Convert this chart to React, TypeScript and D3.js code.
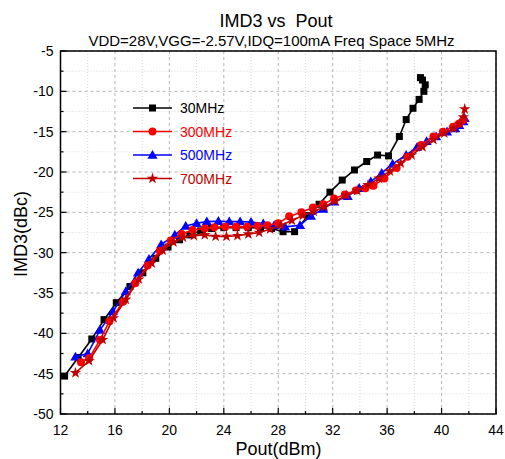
import React from "react";
import * as d3 from "d3";

const xTicks = [12, 16, 20, 24, 28, 32, 36, 40, 44];
const yTicks = [-5, -10, -15, -20, -25, -30, -35, -40, -45, -50];

const s30x = [12.3, 13.3, 14.3, 15.2, 16.1, 17.1, 18.05, 19.0, 19.9, 20.75, 21.5, 22.3, 23.1, 24.0, 24.9, 25.8, 26.7, 27.5, 28.35, 29.2, 30.2, 31.0, 31.8, 32.7, 33.6, 34.5, 35.3, 36.1, 36.9, 37.4, 37.9, 38.35, 38.7, 38.8, 38.6, 38.45];
const s30y = [-45.3, -43.0, -40.7, -38.3, -36.2, -34.2, -32.5, -30.7, -29.3, -28.4, -27.8, -27.3, -27.0, -26.9, -26.9, -26.9, -26.9, -27.0, -27.4, -27.4, -25.4, -24.0, -22.5, -21.0, -19.75, -18.7, -17.9, -18.0, -15.6, -13.5, -12.1, -11.0, -10.0, -9.2, -8.6, -8.3];

const s300x = [13.5, 14.1, 14.9, 15.6, 16.6, 17.5, 18.4, 19.3, 20.1, 20.9, 21.7, 22.6, 23.3, 24.1, 24.9, 25.7, 26.5, 27.2, 28.0, 28.8, 29.7, 30.55, 31.3, 32.1, 32.9, 33.7, 34.4, 35.0, 35.8, 36.7, 37.5, 38.5, 39.4, 40.1, 40.85, 41.3, 41.6];
const s300y = [-43.6, -43.1, -40.8, -38.5, -36.1, -33.8, -31.6, -29.8, -28.5, -27.7, -27.2, -27.0, -26.85, -26.8, -26.8, -26.8, -26.7, -26.6, -26.35, -25.5, -25.0, -24.4, -24.0, -23.3, -22.8, -22.3, -22.0, -21.7, -20.8, -19.5, -18.1, -16.65, -15.6, -15.0, -14.4, -14.0, -13.55];

const s500x = [13.1, 14.0, 14.9, 15.85, 16.8, 17.7, 18.5, 19.4, 20.4, 21.2, 22.0, 22.75, 23.6, 24.4, 25.2, 26.0, 26.9, 27.7, 28.5, 29.6, 30.4, 31.3, 32.1, 33.1, 33.95, 34.8, 35.6, 36.4, 37.4, 38.2, 38.9, 39.6, 40.4, 41.0, 41.3, 41.6, 41.7];
const s500y = [-42.9, -42.5, -39.6, -37.3, -34.8, -32.5, -30.8, -29.0, -27.8, -26.7, -26.35, -26.15, -26.1, -26.15, -26.15, -26.2, -26.4, -26.6, -26.8, -26.6, -25.45, -24.6, -23.7, -23.0, -22.0, -21.2, -20.15, -19.0, -17.9, -16.9, -16.2, -15.6, -15.0, -14.6, -14.2, -13.75, -13.35];

const s700x = [13.1, 14.1, 15.1, 15.9, 16.8, 17.75, 18.7, 19.5, 20.3, 21.0, 21.8, 22.6, 23.4, 24.2, 25.0, 25.8, 26.6, 27.4, 28.2, 29.0, 29.8, 30.6, 31.4, 32.2, 33.0, 33.8, 34.6, 35.4, 36.2, 37.0, 37.8, 38.6, 39.4, 40.2, 40.9, 41.3, 41.6, 41.7];
const s700y = [-44.9, -43.4, -40.8, -38.1, -35.8, -33.3, -31.3, -29.7, -28.7, -28.1, -27.9, -27.8, -28.0, -28.0, -27.9, -27.7, -27.5, -27.1, -26.6, -26.0, -25.4, -24.9, -24.3, -23.6, -22.9, -22.3, -21.6, -20.8, -19.9, -18.9, -17.9, -16.9, -16.0, -15.2, -14.6, -14.0, -13.2, -12.2];

const seriesNames = ["30MHz", "300MHz", "500MHz", "700MHz"];

const L = 60.5, R = 496, T = 51, B = 414;
const font = "'Liberation Sans', Arial, sans-serif";

function Marker({ kind, x, y, color }: { kind: string; x: number; y: number; color: string }) {
  if (kind === "square") return <rect x={x - 3.5} y={y - 3.5} width={7} height={7} fill={color} />;
  if (kind === "circle") return <circle cx={x} cy={y} r={4} fill={color} />;
  if (kind === "triangle") {
    const s = d3.symbol().type(d3.symbolTriangle).size(45)();
    return <path d={s || ""} transform={`translate(${x},${y + 0.8})`} fill={color} />;
  }
  const s = d3.symbol().type(d3.symbolStar).size(40)();
  return <path d={s || ""} transform={`translate(${x},${y})`} fill={color} />;
}

export default function App() {
  const x = d3.scaleLinear().domain([12, 44]).range([L, R]);
  const y = d3.scaleLinear().domain([-50, -5]).range([B, T]);

  const series = [
    { name: seriesNames[0], xs: s30x, ys: s30y, color: "#000000", kind: "square", text: "#000000" },
    { name: seriesNames[2], xs: s500x, ys: s500y, color: "#0000ff", kind: "triangle", text: "#0000ff" },
    { name: seriesNames[1], xs: s300x, ys: s300y, color: "#ff0000", kind: "circle", text: "#ff0000" },
    { name: seriesNames[3], xs: s700x, ys: s700y, color: "#c00000", kind: "star", text: "#c00000" },
  ];
  const legendOrder = [series[0], series[2], series[1], series[3]];

  const line = d3.line<[number, number]>().x((d) => x(d[0])).y((d) => y(d[1]));

  const minorX = d3.range(12, 44.01, 2);
  const minorY = d3.range(-50, -4.99, 2.5);

  return (
    <svg width={505} height={459} style={{ position: "absolute", left: 0, top: 0 }} fontFamily={font}>
      <rect x={0} y={0} width={505} height={459} fill="#fff" />
      {minorX.filter((v) => v % 4 !== 0).map((v) => (
        <line key={"mx" + v} x1={x(v)} x2={x(v)} y1={T} y2={B} stroke="#d8d8d8" strokeWidth={1} strokeDasharray="1,2" />
      ))}
      {minorY.filter((v) => v % 5 !== 0).map((v) => (
        <line key={"my" + v} x1={L} x2={R} y1={y(v)} y2={y(v)} stroke="#d8d8d8" strokeWidth={1} strokeDasharray="1,2" />
      ))}
      {xTicks.map((v) => (
        <line key={"gx" + v} x1={x(v)} x2={x(v)} y1={T} y2={B} stroke="#b4b4b4" strokeWidth={1} strokeDasharray="3,3" />
      ))}
      {yTicks.map((v) => (
        <line key={"gy" + v} x1={L} x2={R} y1={y(v)} y2={y(v)} stroke="#b4b4b4" strokeWidth={1} strokeDasharray="3,3" />
      ))}
      {minorX.map((v) => (
        <line key={"tx" + v} x1={x(v)} x2={x(v)} y1={B} y2={B - (v % 4 === 0 ? 6 : 3)} stroke="#000" strokeWidth={1.2} />
      ))}
      {minorY.map((v) => (
        <line key={"ty" + v} x1={L} x2={L + (v % 5 === 0 ? 6 : 3)} y1={y(v)} y2={y(v)} stroke="#000" strokeWidth={1.2} />
      ))}
      <rect x={L} y={T} width={R - L} height={B - T} fill="none" stroke="#000" strokeWidth={1.5} />
      {xTicks.map((v) => (
        <text key={"lx" + v} x={x(v)} y={B + 21} textAnchor="middle" fontSize={14} fill="#000">{v}</text>
      ))}
      {yTicks.map((v) => (
        <text key={"ly" + v} x={L - 7} y={y(v) + 5} textAnchor="end" fontSize={14} fill="#000">{v}</text>
      ))}
      {series.map((s) => {
        const pts = s.xs.map((xv, i) => [xv, s.ys[i]] as [number, number]);
        return (
          <g key={s.name}>
            <path d={line(pts) || ""} fill="none" stroke={s.color} strokeWidth={1.6} />
            {pts.map((p, i) => (
              <Marker key={i} kind={s.kind} x={x(p[0])} y={y(p[1])} color={s.color} />
            ))}
          </g>
        );
      })}
      {legendOrder.map((s, i) => {
        const ly = 108 + i * 23.5;
        return (
          <g key={"leg" + s.name}>
            <line x1={133} x2={172} y1={ly} y2={ly} stroke={s.color} strokeWidth={1.6} />
            <Marker kind={s.kind} x={152.5} y={ly} color={s.color} />
            <text x={180} y={ly + 5} fontSize={14} fill={s.text}>{s.name}</text>
          </g>
        );
      })}
      <text x={276} y={27} textAnchor="middle" fontSize={18} fill="#000" style={{ whiteSpace: "pre" }}>IMD3 vs  Pout</text>
      <text x={271.5} y={46} textAnchor="middle" fontSize={15} fill="#000">VDD=28V,VGG=-2.57V,IDQ=100mA Freq Space 5MHz</text>
      <text x={278.5} y={455} textAnchor="middle" fontSize={18} fill="#000">Pout(dBm)</text>
      <text transform={`translate(27,234) rotate(-90)`} textAnchor="middle" fontSize={18} fill="#000">IMD3(dBc)</text>
    </svg>
  );
}
